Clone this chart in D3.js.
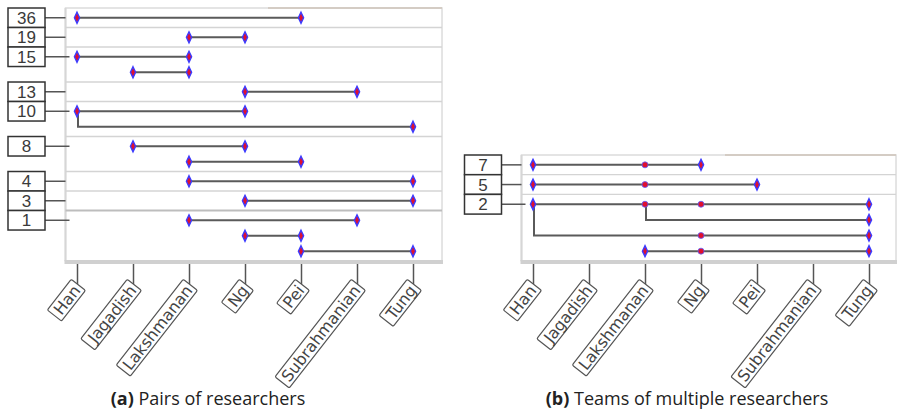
<!DOCTYPE html>
<html>
<head>
<meta charset="utf-8">
<script src="https://cdn.jsdelivr.net/npm/d3@7"></script>
<style>
  body { margin: 0; background: #fff; }
  .countText { font-family: "Liberation Sans", Arial, sans-serif; font-size: 17px; fill: #3a3a3a; }
  .nameText { font-family: "DejaVu Sans", sans-serif; font-size: 16px; fill: #444; }
  .caption { font-family: "Open Sans", sans-serif; font-size: 18px; fill: #222; }
</style>
</head>
<body>
<div id="chart"></div>
<script>
var svgWidth = 898;
var svgHeight = 411;

// researchers on the x axis
var researchers = ["Han", "Jagadish", "Lakshmanan", "Ng", "Pei", "Subrahmanian", "Tung"];

// (a) pairs: number of joint papers, and the pairs in each group
var pairCounts = [36, 19, 15, 13, 10, 8, 4, 3, 1];
var pairRows = [
    [["Han", "Pei"]],
    [["Lakshmanan", "Ng"]],
    [["Han", "Lakshmanan"], ["Jagadish", "Lakshmanan"]],
    [["Ng", "Subrahmanian"]],
    [["Han", "Ng"], ["Han", "Tung"]],
    [["Jagadish", "Ng"], ["Lakshmanan", "Pei"]],
    [["Lakshmanan", "Tung"]],
    [["Ng", "Tung"]],
    [["Lakshmanan", "Subrahmanian"], ["Ng", "Pei"], ["Pei", "Tung"]]
];

// (b) teams of more than two
var teamCounts = [7, 5, 2];
var teamRows = [
    [["Han", "Lakshmanan", "Ng"]],
    [["Han", "Lakshmanan", "Pei"]],
    [["Han", "Lakshmanan", "Ng", "Tung"], ["Han", "Lakshmanan", "Tung"],
     ["Han", "Ng", "Tung"], ["Lakshmanan", "Ng", "Tung"]]
];

var captionTags = ["(a)", "(b)"];
var captionTexts = ["Pairs of researchers", "Teams of multiple researchers"];

var svg = d3.select("#chart")
    .append("svg")
    .attr("width", svgWidth)
    .attr("height", svgHeight);

var FIRST = 1.26;   // first row of a group is a bit taller

function drawPanel(counts, groups, p) {
    // lay out rows in "units"
    var rows = [];
    var groupInfo = [];
    var u = 0;
    groups.forEach(function(g, gi) {
        var start = u;
        g.forEach(function(members, ri) {
            // find shared prefix with an earlier row in this group
            var k = 0, parent = -1;
            for (var j = 0; j < ri; j++) {
                var m = 0;
                while (m < members.length - 1 && m < g[j].length && g[j][m] == members[m]) m++;
                if (m > k) { k = m; parent = rows.length - ri + j; }
            }
            rows.push({members: members, pos: start + FIRST / 2 + ri, prefix: k, parent: parent});
        });
        u = start + FIRST + (g.length - 1);
        groupInfo.push({count: counts[gi], start: start, end: u, n: g.length});
    });

    var x = d3.scalePoint().domain(researchers).range(p.xRange);
    var y = d3.scaleLinear().domain([0, u]).range([p.top, p.bottom]);

    var g = svg.append("g");

    // frame
    g.append("rect")
        .attr("x", p.left).attr("y", p.top)
        .attr("width", p.right - p.left).attr("height", p.bottom - p.top)
        .attr("fill", "#fff").attr("stroke", "#dcdcdc").attr("stroke-width", 1.5);
    g.append("line")
        .attr("x1", p.tabX).attr("x2", p.right).attr("y1", p.top).attr("y2", p.top)
        .attr("stroke", "#d4ccc4").attr("stroke-width", 2);
    g.append("line")
        .attr("x1", p.left).attr("x2", p.left).attr("y1", p.top).attr("y2", p.bottom)
        .attr("stroke", "#d6d6d6").attr("stroke-width", 2);
    g.append("line")
        .attr("x1", p.left - 1).attr("x2", p.right + 1).attr("y1", p.bottom + 1).attr("y2", p.bottom + 1)
        .attr("stroke", "#d0d0d0").attr("stroke-width", 4);

    // group separators
    g.selectAll(".sep")
        .data(groupInfo.slice(1))
        .enter()
        .append("line")
        .attr("x1", p.left).attr("x2", p.right)
        .attr("y1", d => y(d.start)).attr("y2", d => y(d.start))
        .attr("stroke", d => d.count == 1 ? "#bdbdbd" : "#d4d4d4")
        .attr("stroke-width", d => d.count == 1 ? 2 : 1.3);

    // count boxes + connector
    groupInfo.forEach(function(d) {
        var yc = y(d.start + FIRST / 2);
        g.append("line")
            .attr("x1", p.boxX + 37).attr("x2", d.n > 1 ? p.left + 4 : p.left)
            .attr("y1", yc).attr("y2", yc)
            .attr("stroke", "#555").attr("stroke-width", 1.5);
        g.append("rect")
            .attr("x", p.boxX).attr("y", y(d.start))
            .attr("width", 37).attr("height", y(d.start + FIRST) - y(d.start))
            .attr("fill", "#fff").attr("stroke", "#333").attr("stroke-width", 1.5);
        g.append("text")
            .attr("class", "countText")
            .attr("x", p.boxX + 18.5).attr("y", yc + 6)
            .attr("text-anchor", "middle")
            .text(d.count);
    });

    // row lines
    g.selectAll(".row")
        .data(rows)
        .enter()
        .append("path")
        .attr("fill", "none")
        .attr("stroke", "#5a5a5a")
        .attr("stroke-width", 2)
        .attr("d", function(d) {
            var last = x(d.members[d.members.length - 1]);
            if (d.prefix > 0) {
                var bx = x(d.members[d.prefix - 1]) + 1;
                return "M" + bx + "," + y(rows[d.parent].pos) + "V" + y(d.pos) + "H" + last;
            }
            return "M" + x(d.members[0]) + "," + y(d.pos) + "H" + last;
        });

    // markers
    var marks = [];
    rows.forEach(function(d) {
        d.members.forEach(function(m, i) {
            if (i < d.prefix) return;
            var end = (i == 0 || i == d.members.length - 1);
            marks.push({name: m, pos: d.pos, end: end});
        });
    });
    g.selectAll(".diamond")
        .data(marks.filter(d => d.end))
        .enter()
        .append("path")
        .attr("d", "M0,-5.5L2.6,0L0,5.5L-2.6,0Z")
        .attr("transform", d => `translate(${x(d.name)}, ${y(d.pos)})`)
        .attr("fill", "#e0102e")
        .attr("stroke", "#3b3bff")
        .attr("stroke-width", 1.4);
    g.selectAll(".dot")
        .data(marks.filter(d => !d.end))
        .enter()
        .append("circle")
        .attr("cx", d => x(d.name))
        .attr("cy", d => y(d.pos))
        .attr("r", 3)
        .attr("fill", "#e0102e")
        .attr("stroke", "#5a5aff")
        .attr("stroke-width", 0.8);

    // x axis ticks
    var axis = d3.axisBottom(x).tickSize(20).tickFormat("");
    var ax = g.append("g")
        .attr("transform", `translate(0, ${p.bottom + 3})`)
        .call(axis);
    ax.select(".domain").remove();
    ax.selectAll(".tick line").attr("stroke", "#555").attr("stroke-width", 1.5);

    // rotated boxed names
    var lab = g.selectAll(".name")
        .data(researchers)
        .enter()
        .append("g")
        .attr("transform", d => `translate(${x(d) + 2}, ${p.bottom + 23}) rotate(-52)`);
    lab.append("text")
        .attr("class", "nameText")
        .attr("x", -4)
        .attr("y", 6)
        .attr("text-anchor", "end")
        .text(d => d);
    lab.each(function() {
        var t = d3.select(this).select("text");
        var bb = t.node().getBBox();
        d3.select(this).insert("rect", "text")
            .attr("x", bb.x - 4).attr("y", -9)
            .attr("width", bb.width + 7).attr("height", 18)
            .attr("rx", 1.5)
            .attr("fill", "#fff").attr("stroke", "#555").attr("stroke-width", 1.2);
    });

    // caption
    var cap = g.append("text")
        .attr("class", "caption")
        .attr("x", p.capX).attr("y", 405)
        .attr("text-anchor", "middle");
    cap.append("tspan").attr("font-weight", "bold").text(captionTags[p.i]);
    cap.append("tspan").text(" " + captionTexts[p.i]);
}

drawPanel(pairCounts, pairRows, {
    i: 0, left: 65.5, right: 442, top: 8, bottom: 261, tabX: 268,
    xRange: [77, 413], boxX: 8, capX: 208
});
drawPanel(teamCounts, teamRows, {
    i: 1, left: 521.5, right: 896, top: 155, bottom: 261, tabX: 725,
    xRange: [533, 869], boxX: 464.5, capX: 687
});
</script>
</body>
</html>
